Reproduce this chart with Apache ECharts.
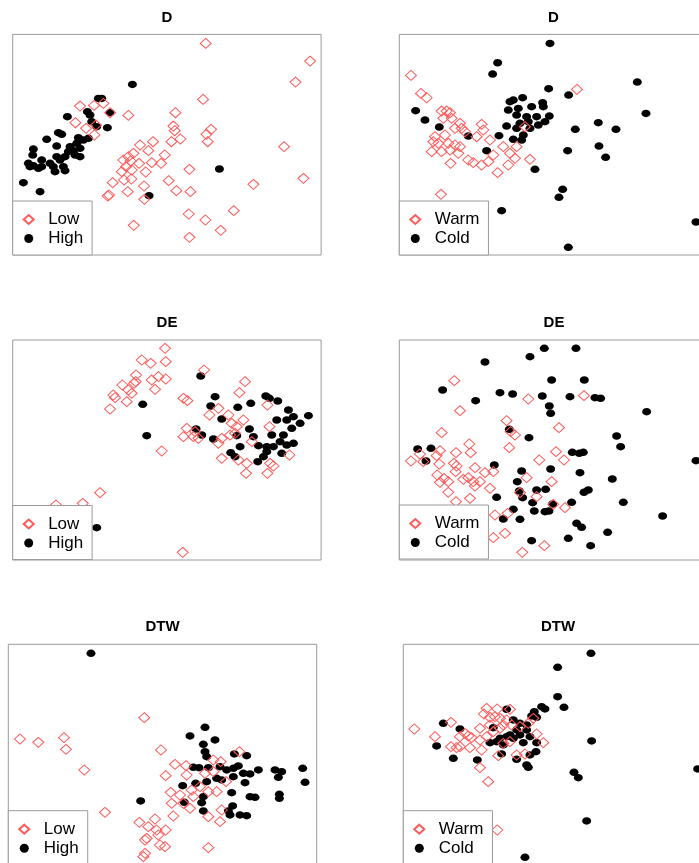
<!DOCTYPE html>
<html>
<head>
<meta charset="utf-8">
<title>D / DE / DTW</title>
<script src="https://cdn.jsdelivr.net/npm/echarts@6/dist/echarts.min.js"></script>
<style>
  html, body { margin: 0; padding: 0; background: #fff; overflow: hidden; }
  /* the right-hand and bottom boxes run past the page edge, so the canvas is a bit larger */
  #chart { width: 720px; height: 880px; }
</style>
</head>
<body>
<div id="chart"></div>
<script>
// values (arbitrary MDS-like units, box = [0,W] x [0,H])
var titles = ['D', 'D', 'DE', 'DE', 'DTW', 'DTW'];
var groupsA = ['Low', 'High'];
var groupsB = ['Warm', 'Cold'];

var d1Low = [[5.79,6.35],[8.92,5.82],[8.48,5.19],[5.71,4.67],[2.02,4.47],[2.44,4.49],[2.72,4.55],[2.92,4.27],[3.47,4.19],[4.88,4.27],[1.88,3.97],[2.20,3.80],[2.50,3.90],[2.45,3.60],[4.82,3.87],[4.86,3.73],[5.95,3.77],[5.81,3.62],[5.03,3.48],[5.85,3.40],[4.76,3.40],[4.21,3.40],[3.82,3.30],[4.07,3.13],[8.14,3.25],[4.56,3.00],[3.62,3.05],[3.47,2.95],[3.32,2.85],[3.54,2.82],[3.79,2.75],[4.17,2.77],[4.45,2.75],[3.40,2.65],[3.57,2.55],[5.30,2.57],[3.99,2.49],[3.27,2.50],[3.56,2.28],[3.34,2.25],[3.00,2.17],[4.68,2.23],[7.22,2.12],[8.72,2.30],[3.94,2.07],[3.45,1.90],[4.91,1.93],[5.33,1.90],[2.89,1.80],[2.85,1.77],[3.95,1.67],[5.28,1.23],[6.63,1.33],[5.78,1.05],[3.63,0.89],[6.24,0.74],[5.30,0.53]];
var d1High = [[3.59,5.12],[2.57,4.70],[2.67,4.70],[2.92,4.27],[2.24,4.30],[1.64,4.15],[2.32,4.20],[2.37,4.00],[2.52,3.85],[2.84,3.82],[1.37,3.67],[1.47,3.62],[1.02,3.47],[1.32,3.27],[1.97,3.52],[2.12,3.45],[2.27,3.50],[1.72,3.25],[1.82,3.13],[2.02,3.20],[0.62,3.18],[0.60,3.00],[0.87,2.85],[1.32,2.95],[1.42,2.85],[1.57,2.95],[1.87,3.00],[2.02,2.95],[0.62,2.68],[0.77,2.60],[0.52,2.65],[1.22,2.65],[1.27,2.50],[1.52,2.65],[1.57,2.53],[0.32,2.17],[0.82,1.90],[6.20,2.58],[4.09,1.78],[1.67,3.10],[1.92,3.35],[1.12,2.75],[0.87,2.65],[0.47,2.75]];

var d2Warm = [[0.35,5.39],[0.65,4.85],[0.82,4.72],[5.33,4.97],[1.27,4.32],[1.42,4.32],[1.52,4.27],[1.32,4.10],[1.57,4.10],[1.82,3.95],[1.67,3.80],[1.87,3.80],[1.97,3.70],[2.47,3.92],[2.52,3.75],[2.32,3.55],[2.72,3.45],[1.37,3.60],[1.07,3.55],[1.02,3.40],[1.17,3.35],[1.47,3.35],[1.67,3.30],[1.82,3.25],[0.97,3.10],[1.27,3.10],[1.52,3.15],[1.77,3.05],[2.07,2.85],[2.22,2.77],[2.47,2.70],[2.67,2.80],[2.82,3.00],[3.12,3.25],[3.32,3.05],[3.52,3.25],[3.27,2.70],[3.47,2.90],[3.92,2.87],[1.54,2.75],[2.95,2.47],[3.77,3.85],[1.25,1.82]];
var d2Cold = [[4.52,6.35],[2.95,5.77],[2.80,5.43],[4.48,4.99],[5.08,4.80],[7.14,5.19],[0.49,4.33],[0.77,4.05],[1.20,3.84],[2.07,3.57],[2.62,3.13],[2.99,3.58],[3.22,3.87],[7.40,4.25],[5.97,3.97],[5.28,3.77],[6.50,3.77],[5.99,3.27],[6.19,2.93],[5.05,3.13],[4.07,2.57],[4.90,1.97],[4.79,1.73],[3.07,1.33],[8.90,0.99],[5.07,0.23],[3.32,4.60],[3.42,4.65],[3.70,4.72],[3.27,4.35],[3.57,4.40],[3.97,4.45],[4.30,4.57],[4.32,4.45],[3.52,4.20],[3.82,4.15],[4.12,4.15],[4.50,4.17],[3.62,3.95],[3.87,4.00],[4.17,3.90],[4.37,4.00],[3.52,3.80],[3.92,3.80],[3.42,3.47],[3.67,3.45],[3.72,3.60]];

var d3Low = [[4.57,6.35],[3.87,6.00],[4.14,5.90],[4.59,5.95],[5.74,5.70],[3.70,5.55],[4.17,5.40],[4.37,5.50],[4.59,5.43],[3.29,5.25],[3.47,5.10],[3.64,5.30],[3.69,5.35],[3.57,5.00],[4.27,5.12],[3.02,4.95],[3.07,4.87],[3.42,4.75],[2.92,4.53],[5.12,4.85],[5.24,4.78],[6.97,5.35],[6.80,5.02],[7.64,4.65],[6.17,4.55],[6.47,4.35],[5.90,4.35],[6.92,4.20],[6.57,4.10],[6.72,4.00],[7.70,4.00],[5.22,3.95],[5.47,3.85],[5.12,3.70],[5.57,3.65],[5.42,3.70],[6.17,3.50],[6.27,3.65],[6.52,3.75],[6.67,3.80],[7.17,3.55],[4.47,3.27],[6.27,3.05],[6.77,3.00],[7.02,2.90],[7.72,2.90],[7.82,2.82],[8.30,3.15],[7.00,2.60],[7.64,2.60],[2.62,2.02],[2.10,1.70],[1.30,1.65],[5.10,0.23]];
var d3High = [[5.64,5.52],[6.07,4.90],[5.94,4.62],[3.90,4.67],[6.27,4.23],[6.75,4.58],[7.14,4.70],[7.59,4.92],[7.70,4.85],[7.95,4.77],[4.02,3.73],[5.50,3.93],[5.67,3.75],[6.02,3.63],[6.72,3.73],[7.10,3.93],[7.22,3.70],[6.54,3.22],[6.67,3.10],[6.82,3.40],[7.37,3.43],[7.35,2.95],[7.52,3.10],[7.62,3.25],[7.92,4.20],[8.27,4.50],[8.42,4.30],[8.62,4.10],[8.87,4.33],[8.22,4.20],[8.37,3.95],[8.12,3.75],[7.77,3.75],[8.02,3.55],[8.22,3.45],[8.42,3.50],[7.82,3.40],[8.07,3.20],[7.62,3.40],[2.52,0.97]];

var d4Warm = [[1.65,5.38],[1.82,4.48],[3.87,4.83],[5.54,4.93],[3.22,4.18],[1.27,3.82],[3.34,3.85],[3.47,3.75],[4.79,3.97],[2.10,3.48],[3.30,3.37],[4.70,3.25],[4.94,3.00],[4.20,3.00],[1.22,3.28],[1.70,3.22],[2.14,3.22],[0.62,3.18],[1.12,3.13],[0.35,2.97],[0.72,2.95],[1.20,2.88],[1.64,2.90],[1.72,2.82],[2.27,2.77],[2.57,2.62],[2.82,2.65],[1.69,2.65],[1.14,2.55],[1.34,2.45],[1.92,2.42],[2.07,2.47],[2.22,2.35],[2.42,2.35],[1.22,2.33],[1.47,2.35],[3.82,2.47],[4.57,2.35],[2.27,2.22],[2.72,2.15],[1.47,2.03],[3.62,2.02],[4.12,1.90],[1.70,1.75],[2.12,1.85],[4.62,1.67],[4.97,1.57],[3.25,1.40],[2.87,1.35],[3.17,0.80],[2.82,0.67],[3.69,0.23],[4.35,0.43]];
var d4Cold = [[4.35,6.35],[5.30,6.35],[3.92,6.10],[2.57,5.94],[4.57,5.40],[5.55,5.40],[1.30,5.10],[2.29,4.78],[3.02,5.02],[3.40,4.98],[4.29,4.92],[5.12,4.90],[5.87,4.87],[6.04,4.85],[4.50,4.62],[4.54,4.40],[7.42,4.45],[3.30,3.92],[3.89,3.67],[6.52,3.72],[6.64,3.40],[0.55,3.33],[0.95,3.35],[0.80,2.97],[5.19,3.23],[5.40,3.20],[5.52,3.23],[8.90,2.98],[2.85,2.85],[4.54,2.73],[3.67,2.67],[5.42,2.62],[3.54,2.35],[6.39,2.43],[3.60,2.07],[3.70,1.87],[4.12,2.10],[4.39,2.12],[5.54,2.03],[5.67,2.10],[2.92,1.88],[4.00,1.72],[4.60,1.68],[5.17,1.73],[6.72,1.73],[3.42,1.52],[4.05,1.47],[4.37,1.45],[4.49,1.47],[3.12,1.23],[3.62,1.22],[5.32,1.10],[5.47,0.98],[7.90,1.32],[6.25,0.83],[5.07,0.65],[3.97,0.58],[5.74,0.43]];

var d5Low = [[0.35,3.76],[0.90,3.66],[1.67,3.80],[1.73,3.45],[2.28,2.83],[4.08,4.40],[4.58,3.43],[6.93,3.38],[6.15,3.13],[6.37,3.08],[5.00,3.00],[5.33,2.96],[4.72,2.66],[5.35,2.68],[5.90,2.73],[6.15,2.78],[6.53,2.48],[4.87,2.16],[5.15,2.08],[5.50,2.23],[5.75,2.33],[6.00,2.18],[6.25,2.18],[5.55,2.03],[4.90,1.83],[5.25,1.83],[5.45,1.68],[2.90,1.56],[4.95,1.45],[6.00,1.43],[6.35,1.28],[6.40,1.63],[3.93,1.26],[4.40,1.36],[4.20,1.13],[4.45,1.03],[4.72,1.03],[4.15,0.78],[4.10,0.73],[4.50,0.88],[4.55,0.58],[4.70,0.53],[4.10,0.33],[4.05,0.23],[6.00,0.50]];
var d5High = [[2.48,6.33],[5.90,4.11],[5.45,3.85],[6.20,3.73],[5.85,3.60],[5.90,3.38],[5.95,3.23],[6.78,3.31],[7.15,3.26],[5.55,2.91],[5.72,2.90],[6.00,2.90],[6.35,2.93],[6.55,2.83],[6.75,2.88],[6.90,2.95],[7.05,2.73],[7.25,2.71],[7.50,2.83],[8.00,2.83],[8.20,2.78],[8.83,2.88],[8.10,2.61],[8.90,2.46],[6.25,2.58],[6.40,2.53],[6.75,2.63],[7.10,2.45],[5.23,2.36],[5.62,2.43],[5.95,2.48],[6.70,2.15],[7.25,2.03],[7.40,2.01],[8.13,2.10],[8.13,1.98],[3.97,1.90],[5.28,1.86],[5.85,2.03],[5.80,1.85],[5.85,1.60],[6.73,1.75],[6.60,1.60],[6.65,1.48],[6.95,1.48],[7.15,1.46]];

var d6Warm = [[0.33,4.06],[1.43,4.26],[0.95,3.83],[2.50,4.68],[2.82,4.66],[3.20,4.65],[2.42,4.51],[2.60,4.41],[2.75,4.43],[2.90,4.38],[3.10,4.33],[2.60,4.18],[2.30,4.08],[1.85,3.93],[1.95,3.85],[2.05,3.80],[1.70,3.83],[2.30,3.73],[2.50,3.83],[2.70,3.98],[2.90,4.08],[3.00,4.18],[3.25,4.18],[3.50,4.13],[3.75,4.23],[3.90,4.38],[4.00,3.91],[4.20,3.65],[1.43,3.53],[1.60,3.50],[1.70,3.53],[2.00,3.50],[2.35,3.43],[2.85,3.26],[2.30,2.90],[2.55,2.48],[3.40,3.28],[3.65,3.31],[3.00,3.63],[3.20,3.68],[2.82,1.03]];
var d6Cold = [[5.63,6.33],[4.63,5.91],[4.63,5.03],[4.82,4.71],[4.15,4.73],[4.25,4.66],[3.93,4.58],[3.10,4.65],[1.20,4.23],[1.70,4.06],[2.70,4.10],[1.00,3.55],[1.50,3.18],[2.22,3.13],[5.65,3.70],[8.83,2.86],[5.12,2.76],[5.25,2.60],[5.50,1.30],[3.65,0.21],[3.40,3.15],[3.70,2.98],[3.75,2.91],[3.98,3.38],[3.80,3.28],[4.00,3.65],[3.60,3.65],[3.00,3.58],[2.60,3.65],[2.95,3.31],[3.30,4.33],[3.50,4.23],[3.70,4.18],[3.40,4.03],[3.20,3.88],[3.10,3.83],[2.90,3.78],[3.30,3.78],[3.50,3.88],[3.70,4.03],[3.80,3.83],[2.80,3.68],[4.00,4.41],[3.85,4.45]];

var panelData = [
  [d1Low, d1High], [d2Warm, d2Cold],
  [d3Low, d3High], [d4Warm, d4Cold],
  [d5Low, d5High], [d6Warm, d6Cold]
];
var axisW = [9.25, 9.27, 9.25, 9.27, 9.25, 9.27];
var axisH = [6.62, 6.62, 6.60, 6.60, 6.60, 6.60];

// layout of the six boxes (px)
var boxes = [
  { left: 12.7, top: 34.4, width: 308.4, height: 220.6 },
  { left: 399.3, top: 34.4, width: 309, height: 220.6 },
  { left: 12.7, top: 340, width: 308.4, height: 220 },
  { left: 399.3, top: 340, width: 309, height: 220 },
  { left: 8.3, top: 644.3, width: 308.4, height: 220 },
  { left: 403.3, top: 644.3, width: 309, height: 220 }
];
var titlePos = [[167, 17.7], [553.5, 17.7], [167, 322.7], [554, 322.7], [162.5, 627.3], [558, 627.3]];
var legendTop = [201, 201, 505.5, 505, 810.7, 810.7];

var FONT = '"Liberation Sans", Arial, Helvetica, sans-serif';
var RED = '#ff5a5a';
var BORDER = '#9a9a9a';

var option = {
  backgroundColor: '#fff',
  animation: false,
  title: [], grid: [], xAxis: [], yAxis: [], legend: [], series: []
};

for (var i = 0; i < 6; i++) {
  var names = (i % 2 === 0) ? groupsA : groupsB;
  var b = boxes[i];
  option.title.push({
    text: titles[i], left: titlePos[i][0], top: titlePos[i][1],
    textAlign: 'center', textVerticalAlign: 'middle', padding: 0,
    textStyle: { fontFamily: FONT, fontWeight: 'bold', fontSize: 15, color: '#000' }
  });
  option.grid.push({
    left: b.left, top: b.top, width: b.width, height: b.height,
    show: true, borderColor: BORDER, borderWidth: 1, backgroundColor: 'transparent'
  });
  option.xAxis.push({
    gridIndex: i, type: 'value', min: 0, max: axisW[i], show: false
  });
  option.yAxis.push({
    gridIndex: i, type: 'value', min: 0, max: axisH[i], show: false
  });
  option.legend.push({
    data: names.slice(), orient: 'vertical',
    left: b.left, top: legendTop[i], height: 120,
    padding: [10, 9, 8, 10], itemGap: 2, itemWidth: 10, itemHeight: 9,
    formatter: function (n) { return '  ' + n; },
    backgroundColor: '#fff', borderColor: BORDER, borderWidth: 1, borderRadius: 0,
    textStyle: { fontFamily: FONT, fontSize: 17, color: '#000' },
    selectedMode: false, z: 10
  });
  // black first, red hollow diamonds on top
  option.series.push({
    name: names[1], type: 'scatter', xAxisIndex: i, yAxisIndex: i,
    data: panelData[i][1], symbol: 'circle', symbolSize: [9, 7.5],
    itemStyle: { color: '#000', opacity: 1 }, clip: true, z: 2
  });
  option.series.push({
    name: names[0], type: 'scatter', xAxisIndex: i, yAxisIndex: i,
    data: panelData[i][0], symbol: 'diamond', symbolSize: [11, 10],
    itemStyle: { color: 'rgba(255,255,255,0)', borderColor: RED, borderWidth: 1, opacity: 1 },
    clip: true, z: 3
  });
}

var chart = echarts.init(document.getElementById('chart'), null, { renderer: 'canvas' });
chart.setOption(option);
</script>
</body>
</html>
